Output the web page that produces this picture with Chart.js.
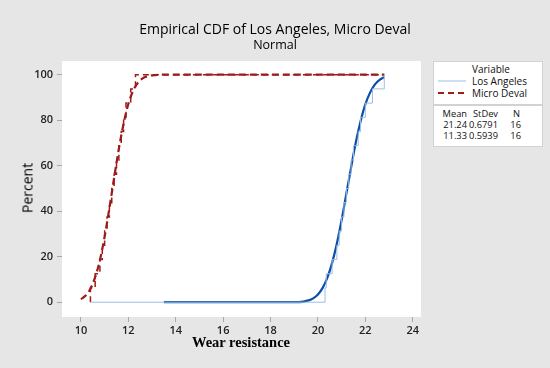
<!DOCTYPE html>
<html lang="en">

<head>
    <meta charset="UTF-8">
    <script src="https://cdn.jsdelivr.net/npm/chart.js"></script>
    <title>Empirical CDF</title>
    <style>
        body { margin: 0; }
        #box {
            position: relative;
            width: 550px;
            height: 368px;
            background: #e6e6e6;
            font-family: "Open Sans", sans-serif;
            color: #111;
        }
        #box canvas { position: absolute; left: 0; top: 0; }
        .titulo { position: absolute; left: 0; width: 550px; text-align: center; color: #000; }
        .leg {
            position: absolute;
            background: #fff;
            border: 1px solid #d2d2d2;
            font-size: 10px;
            line-height: 12px;
        }
        .leg span { position: absolute; white-space: nowrap; }
        .num { font-size: 9.3px; }
    </style>
</head>

<body>
    <div id="box">
        <canvas id="grafico" width="550" height="368"></canvas>
        <div class="titulo" style="top: 19px; font-size: 14px;">Empirical CDF of Los Angeles, Micro Deval</div>
        <div class="titulo" style="top: 36px; font-size: 12.5px;">Normal</div>
        <div style="position:absolute; left:27px; top:188px; transform:translate(-50%,-50%) rotate(-90deg); font-family:'Open Sans', sans-serif; font-size:14px; color:#000;">Percent</div>
        <div style="position:absolute; left:241px; top:342px; transform:translate(-50%,-50%); font-family:'Liberation Serif', serif; font-size:14.5px; font-weight:bold; color:#000;">Wear resistance</div>

        <div class="leg" style="left:433px; top:61px; width:108px; height:42px;">
            <span style="left:38px; top:1px;">Variable</span>
            <svg style="position:absolute; left:4px; top:14px;" width="30" height="26">
                <line x1="0" y1="5" x2="28" y2="5" stroke="#9dbde3" stroke-width="1"/>
                <line x1="0" y1="17" x2="28" y2="17" stroke="#a01c1c" stroke-width="2" stroke-dasharray="6,4"/>
            </svg>
            <span style="left:38px; top:13px;">Los Angeles</span>
            <span style="left:38px; top:25px;">Micro Deval</span>
        </div>
        <div class="leg num" style="left:433px; top:105px; width:108px; height:40px;">
            <span style="right:75px; top:2px;">Mean</span>
            <span style="right:44px; top:2px;">StDev</span>
            <span style="right:22px; top:2px;">N</span>
            <span style="right:75px; top:13px;">21.24</span>
            <span style="right:44px; top:13px;">0.6791</span>
            <span style="right:21px; top:13px;">16</span>
            <span style="right:75px; top:24px;">11.33</span>
            <span style="right:44px; top:24px;">0.5939</span>
            <span style="right:21px; top:24px;">16</span>
        </div>
    </div>
</body>

</html>
<script>
    // valores ordenados
    const losAngeles = [20.3, 20.35, 20.6, 20.8, 20.9, 21.0, 21.1, 21.2, 21.3, 21.4, 21.5, 21.7, 21.8, 22.0, 22.3, 22.8];
    const microDeval = [10.4, 10.6, 10.8, 10.9, 11.0, 11.1, 11.2, 11.3, 11.4, 11.5, 11.6, 11.7, 11.8, 11.9, 12.1, 12.3];

    // curvas normais ajustadas (x, percentual)
    const ajusteLA_x = [13.5, 19.2, 19.6, 19.8, 20.0, 20.2, 20.4, 20.6, 20.8, 21.0, 21.2, 21.4, 21.6, 21.8, 22.0, 22.2, 22.4, 22.6, 22.8];
    const ajusteLA_y = [0, 0, 0.8, 1.7, 3.4, 6.3, 10.8, 17.3, 25.8, 36.1, 47.7, 59.2, 70.3, 79.5, 86.9, 92.1, 95.6, 97.7, 98.9];
    const ajusteMD_x = [10.0, 10.2, 10.4, 10.6, 10.8, 11.0, 11.2, 11.4, 11.6, 11.8, 12.0, 12.2, 12.4, 12.6, 12.8, 13.0, 13.5, 22.8];
    const ajusteMD_y = [1.3, 2.9, 5.9, 11.0, 18.5, 28.9, 41.3, 54.7, 67.5, 78.5, 87.1, 92.9, 96.4, 98.4, 99.3, 99.7, 100, 100];

    const xInicio = 10.4;
    const xFim = 22.8;
    const xTicks = [10, 12, 14, 16, 18, 20, 22, 24];
    const yTicks = [0, 20, 40, 60, 80, 100];

    function degraus(valores) {
        const pts = [{ x: xInicio, y: 0 }];
        valores.forEach((v, i) => pts.push({ x: v, y: (i + 1) / valores.length * 100 }));
        pts.push({ x: xFim, y: 100 });
        return pts;
    }

    function pares(xs, ys) {
        return xs.map((x, i) => ({ x: x, y: ys[i] }));
    }

    const fundo = {
        id: 'fundo',
        beforeDraw(chart) {
            const { ctx, chartArea: a } = chart;
            ctx.save();
            ctx.fillStyle = '#ffffff';
            ctx.fillRect(a.left, a.top, a.right - a.left, a.bottom - a.top);
            ctx.restore();
        }
    };

    const eixoFonte = { family: 'Open Sans', size: 11, weight: '600' };

    new Chart(document.getElementById('grafico'), {
        type: 'line',
        data: {
            datasets: [
                {
                    label: 'Los Angeles',
                    data: degraus(losAngeles),
                    stepped: true,
                    borderColor: '#9dbde3',
                    borderWidth: 1,
                    pointRadius: 0,
                    fill: false
                },
                {
                    label: 'Micro Deval',
                    data: degraus(microDeval),
                    stepped: true,
                    borderColor: '#a01c1c',
                    borderWidth: 1.5,
                    borderDash: [6, 4],
                    pointRadius: 0,
                    fill: false
                },
                {
                    label: 'Ajuste LA',
                    data: pares(ajusteLA_x, ajusteLA_y),
                    borderColor: '#0a4ea6',
                    borderWidth: 2.2,
                    pointRadius: 0,
                    cubicInterpolationMode: 'monotone',
                    fill: false
                },
                {
                    label: 'Ajuste MD',
                    data: pares(ajusteMD_x, ajusteMD_y),
                    borderColor: '#9b1a1a',
                    borderWidth: 2.2,
                    borderDash: [7, 4],
                    pointRadius: 0,
                    cubicInterpolationMode: 'monotone',
                    fill: false
                }
            ]
        },
        options: {
            responsive: false,
            animation: false,
            layout: { padding: { top: 61, right: 129, left: 0, bottom: 0 } },
            plugins: {
                legend: { display: false },
                tooltip: { enabled: false }
            },
            scales: {
                x: {
                    type: 'linear',
                    min: 9.2,
                    max: 24.35,
                    afterBuildTicks: (s) => { s.ticks = xTicks.map(v => ({ value: v })); },
                    afterFit: (s) => { s.height = 51; },
                    grid: { drawOnChartArea: false, tickLength: 5, color: '#a8a8a8' },
                    border: { display: false },
                    ticks: { color: '#222', font: eixoFonte, padding: 2, maxRotation: 0 }
                },
                y: {
                    min: -6.5,
                    max: 106,
                    afterBuildTicks: (s) => { s.ticks = yTicks.map(v => ({ value: v })); },
                    afterFit: (s) => { s.width = 62; },
                    grid: { drawOnChartArea: false, tickLength: 5, color: '#a8a8a8' },
                    border: { display: false },
                    ticks: { color: '#222', font: eixoFonte, padding: 4 }
                }
            }
        },
        plugins: [fundo]
    });
</script>
